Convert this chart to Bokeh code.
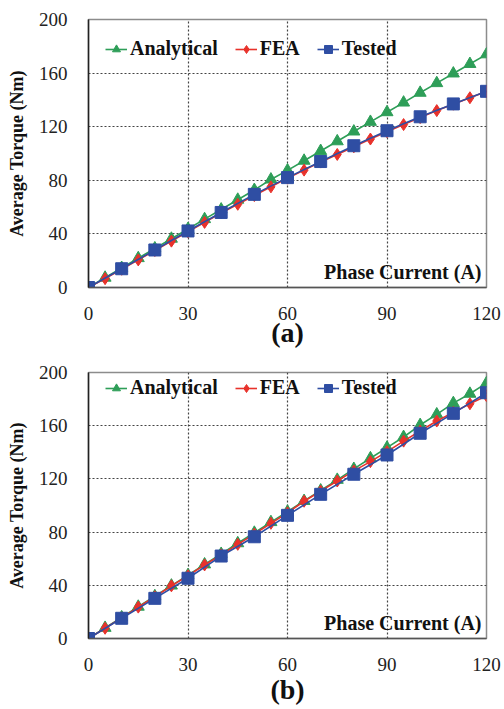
from bokeh.plotting import figure
from bokeh.layouts import column
from bokeh.models import Range1d, FixedTicker, Label
from bokeh.embed import file_html
from bokeh.resources import INLINE

# ---- data ----
current_5 = [0, 5, 10, 15, 20, 25, 30, 35, 40, 45, 50, 55, 60, 65, 70, 75, 80, 85, 90, 95, 100, 105, 110, 115, 120]
current_10 = [0, 10, 20, 30, 40, 50, 60, 70, 80, 90, 100, 110, 120]

a_analytical = [0, 7.3, 14.6, 21.9, 29.2, 36.4, 43.7, 51.0, 58.2, 65.5, 72.8, 80.6, 87.4, 94.6, 101.9, 109.1, 116.4, 123.6, 130.8, 138.0, 145.3, 152.5, 159.7, 166.8, 174.0]
a_fea = [0, 6.6, 13.6, 20.6, 27.6, 34.6, 41.6, 48.6, 55.6, 62.1, 68.6, 75.1, 81.6, 87.6, 93.6, 99.3, 105.0, 110.8, 116.3, 121.6, 126.8, 132.0, 136.8, 141.6, 146.2]
a_tested = [0, 14.0, 28.0, 42.2, 56.0, 69.5, 82.0, 94.0, 105.8, 117.0, 127.4, 137.0, 146.4]

b_analytical = [0, 8.0, 15.9, 23.9, 31.8, 39.8, 47.7, 55.7, 63.6, 71.6, 79.5, 87.5, 95.4, 103.4, 111.3, 119.3, 127.5, 135.5, 143.5, 151.5, 160.5, 168.5, 177.0, 184.0, 192.0]
b_fea = [0, 7.7, 15.5, 23.6, 31.4, 39.6, 47.2, 55.3, 62.9, 70.8, 78.5, 86.6, 94.5, 103.2, 110.8, 118.4, 126.0, 133.0, 140.5, 148.4, 156.0, 163.5, 170.0, 176.5, 182.5]
b_tested = [0, 15.2, 30.2, 45.3, 62.0, 76.5, 92.6, 108.4, 123.5, 138.0, 154.3, 169.3, 184.8]

x_ticks = [0, 30, 60, 90, 120]
y_ticks = [0, 40, 80, 120, 160, 200]
panel_labels = ["(a)", "(b)"]
series_names = ["Analytical", "FEA", "Tested"]

GREEN = "#2e9e58"
RED = "#e8322b"
BLUE = "#2f4ea3"
SERIF = "Liberation Serif, Times New Roman, Times, DejaVu Serif, serif"


def make_panel(label, analytical, fea, tested, height, top, legend_y, label_standoff):
    p = figure(width=504, height=height, output_backend="svg", toolbar_location=None,
               x_range=Range1d(0, 120), y_range=Range1d(0, 200),
               min_border_left=88, min_border_right=18, min_border_top=top,
               min_border_bottom=70)
    p.background_fill_color = "white"
    p.border_fill_color = "white"
    p.outline_line_color = "#8c8c8c"
    p.outline_line_width = 1.5

    p.xaxis.ticker = FixedTicker(ticks=x_ticks)
    p.yaxis.ticker = FixedTicker(ticks=y_ticks)
    for ax in (p.xaxis[0], p.yaxis[0]):
        ax.major_tick_line_color = None
        ax.minor_tick_line_color = None
        ax.major_label_text_font = SERIF
        ax.major_label_text_font_size = "19px"
        ax.major_label_text_color = "#222222"
        ax.axis_line_width = 1.5
    p.yaxis.axis_line_color = "#222222"
    p.xaxis.axis_line_color = "#555555"
    p.xaxis.major_label_standoff = 13
    p.yaxis.major_label_standoff = 15

    p.xaxis.axis_label = label
    p.xaxis.axis_label_text_font = SERIF
    p.xaxis.axis_label_text_font_style = "bold"
    p.xaxis.axis_label_text_font_size = "28px"
    p.xaxis.axis_label_text_color = "#111111"
    p.xaxis.axis_label_standoff = label_standoff

    p.yaxis.axis_label = "Average Torque (Nm)"
    p.yaxis.axis_label_text_font = SERIF
    p.yaxis.axis_label_text_font_style = "bold"
    p.yaxis.axis_label_text_font_size = "18px"
    p.yaxis.axis_label_text_color = "#111111"
    p.yaxis.axis_label_standoff = 9

    p.xgrid.ticker = FixedTicker(ticks=[30, 60, 90])
    p.ygrid.ticker = FixedTicker(ticks=[40, 80, 120, 160])
    for g in (p.xgrid[0], p.ygrid[0]):
        g.grid_line_color = "#444444"
        g.grid_line_dash = "2 2"
        g.grid_line_width = 1.2

    p.line(current_5, analytical, color=GREEN, line_width=1.6, legend_label=series_names[0])
    p.scatter(current_5, analytical, marker="triangle", size=12, color=GREEN, legend_label=series_names[0])
    p.line(current_5, fea, color=RED, line_width=1.6, legend_label=series_names[1])
    p.scatter(current_5, fea, marker="diamond", size=12, color=RED, legend_label=series_names[1])
    p.line(current_10, tested, color=BLUE, line_width=1.6, legend_label=series_names[2])
    p.scatter(current_10, tested, marker="square", size=12, color=BLUE, legend_label=series_names[2])

    lg = p.legend[0]
    lg.orientation = "horizontal"
    lg.location = (17, legend_y)
    lg.margin = 0
    lg.padding = 0
    lg.border_line_color = None
    lg.background_fill_alpha = 0
    lg.label_text_font = SERIF
    lg.label_text_font_style = "bold"
    lg.label_text_font_size = "20px"
    lg.label_text_color = "#111111"
    lg.glyph_width = 22
    lg.glyph_height = 20
    lg.label_height = 20
    lg.label_standoff = 3
    lg.spacing = 17

    p.add_layout(Label(x=120, y=0, x_offset=-5, y_offset=16, text="Phase Current (A)",
                       text_align="right", text_baseline="middle",
                       text_font=SERIF, text_font_style="bold", text_font_size="20px",
                       text_color="#111111"))
    return p


p1 = make_panel(panel_labels[0], a_analytical, a_fea, a_tested, height=357, top=19,
                legend_y=227, label_standoff=-6)
p2 = make_panel(panel_labels[1], b_analytical, b_fea, b_tested, height=351, top=15,
                legend_y=239, label_standoff=0)

layout = column(p1, p2, spacing=0)
open("out.html", "w").write(file_html(layout, INLINE))
